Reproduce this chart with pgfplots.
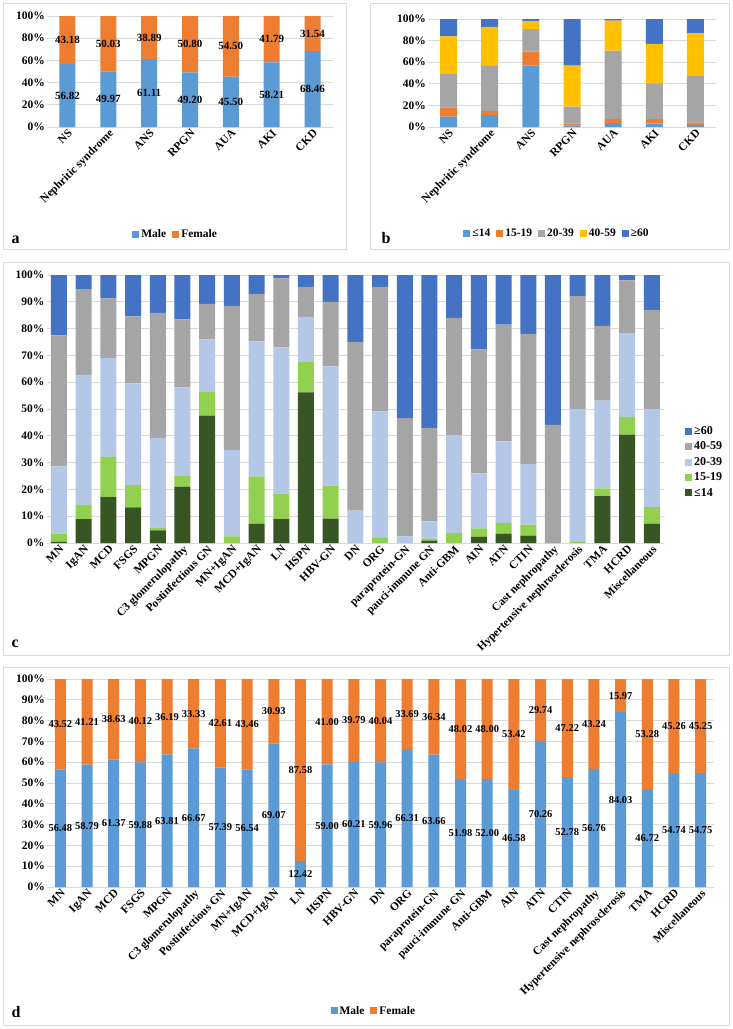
\documentclass[border=0pt]{standalone}
\usepackage{pgfplots}
\pgfplotsset{compat=1.18}
\usepackage{fontspec}
\setmainfont{Liberation Serif}
\definecolor{cMale}{HTML}{5B9BD5}
\definecolor{cFemale}{HTML}{ED7D31}
\definecolor{cGray}{HTML}{A5A5A5}
\definecolor{cGold}{HTML}{FFC000}
\definecolor{cDBlue}{HTML}{4472C4}
\definecolor{cDGreen}{HTML}{375623}
\definecolor{cLGreen}{HTML}{92D050}
\definecolor{cLBlue}{HTML}{B4C7E7}
\definecolor{cGrid}{HTML}{D9D9D9}
\definecolor{cFrame}{HTML}{D9D9D9}
\newcommand{\fs}[1]{\fontsize{#1}{#1}\selectfont}
\pgfplotsset{
  panel/.style={
    scale only axis, anchor=north west,
    ybar stacked, ymin=0, ymax=100,
    axis line style={draw=none}, tick style={draw=none},
    ymajorgrids, grid style={cGrid, line width=0.7pt},
    xtick=data,
    /pgf/number format/assume math mode=true,
    ticklabel style={font=\bfseries\fs{11.5}},
    xticklabel style={rotate=45, anchor=north east, inner sep=1pt},
    yticklabel style={inner sep=2pt},
    legend image code/.code={\fill[##1] (0pt,-3.5pt) rectangle (7pt,3.5pt);},
    legend style={draw=none, fill=none, font=\bfseries\fs{11.5}, legend columns=-1,
      /tikz/every even column/.append style={column sep=4pt}},
  },
  labelaxis/.style={scale only axis, anchor=north west, hide axis, ymin=0, ymax=100, clip=false},
  labelplot/.style={draw=none, mark=none, nodes near coords, point meta=explicit symbolic,
    every node near coord/.append style={anchor=center, text=black, inner sep=0pt, font=\bfseries\fs{#1}}},
}
\begin{document}
\begin{tikzpicture}
\useasboundingbox (0pt,0pt) rectangle (732pt,-1029pt);
\fill[white] (0pt,0pt) rectangle (732pt,-1029pt);
\draw[cFrame, line width=0.8pt] (3pt,-3pt) rectangle (346pt,-249pt);
\draw[cFrame, line width=0.8pt] (370pt,-3pt) rectangle (729pt,-249pt);
\draw[cFrame, line width=0.8pt] (3pt,-262pt) rectangle (729pt,-655pt);
\draw[cFrame, line width=0.8pt] (3pt,-667pt) rectangle (729pt,-1025pt);

% ---------- panel a ----------
\begin{axis}[panel, at={(47pt,-16pt)}, width=286pt, height=111pt,
  bar width=16pt, xmin=-0.5, xmax=6.5,
  ytick={0,20,40,60,80,100}, yticklabels={0\%,20\%,40\%,60\%,80\%,100\%},
  xticklabels={NS,Nephritic syndrome,ANS,RPGN,AUA,AKI,CKD},
  legend style={at={(0.45,-0.964)}, anchor=center}]
\addplot[fill=cMale, draw=none] coordinates {(0,56.82) (1,49.97) (2,61.11) (3,49.20) (4,45.50) (5,58.21) (6,68.46)};
\addplot[fill=cFemale, draw=none] coordinates {(0,43.18) (1,50.03) (2,38.89) (3,50.80) (4,54.50) (5,41.79) (6,31.54)};
\legend{Male,Female}
\end{axis}
\begin{axis}[labelaxis, at={(47pt,-16pt)}, width=286pt, height=111pt, xmin=-0.5, xmax=6.5]
\addplot[labelplot=11] coordinates {(0,28.41) [56.82] (1,24.985) [49.97] (2,30.555) [61.11] (3,24.60) [49.20] (4,22.75) [45.50] (5,29.105) [58.21] (6,34.23) [68.46]};
\addplot[labelplot=11] coordinates {(0,78.41) [43.18] (1,74.985) [50.03] (2,80.555) [38.89] (3,74.60) [50.80] (4,72.75) [54.50] (5,79.105) [41.79] (6,84.23) [31.54]};
\end{axis}

% ---------- panel b ----------
\begin{axis}[panel, at={(428pt,-19pt)}, width=288pt, height=108pt,
  bar width=17pt, xmin=-0.5, xmax=6.5,
  ytick={0,20,40,60,80,100}, yticklabels={0\%,20\%,40\%,60\%,80\%,100\%},
  xticklabels={NS,Nephritic syndrome,ANS,RPGN,AUA,AKI,CKD},
  legend style={at={(0.448,-0.99)}, anchor=center}]
\addplot[fill=cMale, draw=none] coordinates {(0,9.6) (1,11.1) (2,56.8) (3,1.5) (4,3.7) (5,3.1) (6,1.9)};
\addplot[fill=cFemale, draw=none] coordinates {(0,8.6) (1,3.7) (2,13.0) (3,1.6) (4,3.7) (5,4.3) (6,2.1)};
\addplot[fill=cGray, draw=none] coordinates {(0,31.5) (1,41.7) (2,20.9) (3,15.7) (4,63.3) (5,33.0) (6,43.2)};
\addplot[fill=cGold, draw=none] coordinates {(0,34.3) (1,36.1) (2,7.1) (3,38.0) (4,27.8) (5,36.5) (6,39.5)};
\addplot[fill=cDBlue, draw=none] coordinates {(0,16.0) (1,7.4) (2,2.2) (3,43.2) (4,1.5) (5,23.1) (6,13.3)};
\legend{≤14,15-19,20-39,40-59,≥60}
\end{axis}

% ---------- panel c ----------
\begin{axis}[panel, at={(46.6pt,-275pt)}, width=617.5pt, height=268pt,
  bar width=16pt, xmin=-0.5, xmax=24.5,
  ytick={0,10,...,100}, yticklabels={0\%,10\%,20\%,30\%,40\%,50\%,60\%,70\%,80\%,90\%,100\%},
  xticklabels={MN,IgAN,MCD,FSGS,MPGN,C3 glomerulopathy,Postinfectious GN,MN+IgAN,MCD+IgAN,LN,HSPN,HBV-GN,DN,ORG,paraprotein-GN,pauci-immune GN,Anti-GBM,AIN,ATN,CTIN,Cast nephropathy,Hypertensive nephrosclerosis,TMA,HCRD,Miscellaneous},
  legend columns=1, reverse legend, legend cell align=left,
  legend style={at={(1.029,0.451)}, anchor=north west, font=\bfseries\fs{12}, row sep=2pt}]
\addplot[fill=cDGreen, draw=none] coordinates {(0,0.5) (1,8.9) (2,17.1) (3,13.25) (4,4.75) (5,21.0) (6,47.5) (7,0) (8,7.1) (9,8.9) (10,56.25) (11,9.1) (12,0) (13,0) (14,0) (15,0.9) (16,0) (17,2.25) (18,3.5) (19,2.75) (20,0) (21,0) (22,17.5) (23,40.4) (24,7.1)};
\addplot[fill=cLGreen, draw=none] coordinates {(0,3.0) (1,5.35) (2,15.0) (3,8.35) (4,1.0) (5,4.0) (6,9.1) (7,2.5) (8,17.8) (9,9.5) (10,11.25) (11,12.3) (12,0) (13,1.9) (14,0) (15,0.7) (16,3.75) (17,3.25) (18,4.0) (19,4.15) (20,0) (21,0.6) (22,2.9) (23,6.7) (24,6.3)};
\addplot[fill=cLBlue, draw=none] coordinates {(0,25.1) (1,48.5) (2,36.9) (3,38.0) (4,33.35) (5,33.1) (6,19.4) (7,32.25) (8,50.35) (9,54.6) (10,16.9) (11,44.5) (12,12.1) (13,47.2) (14,2.5) (15,6.5) (16,36.5) (17,20.5) (18,30.4) (19,22.5) (20,0) (21,49.4) (22,32.7) (23,31.0) (24,36.6)};
\addplot[fill=cGray, draw=none] coordinates {(0,48.9) (1,32.0) (2,22.25) (3,25.0) (4,46.8) (5,25.3) (6,13.25) (7,53.75) (8,17.65) (9,25.75) (10,11.2) (11,24.1) (12,62.9) (13,46.5) (14,44.1) (15,34.9) (16,43.75) (17,46.25) (18,43.6) (19,48.5) (20,44.1) (21,42.1) (22,27.9) (23,19.9) (24,36.9)};
\addplot[fill=cDBlue, draw=none] coordinates {(0,22.5) (1,5.25) (2,8.75) (3,15.4) (4,14.1) (5,16.6) (6,10.75) (7,11.5) (8,7.1) (9,1.25) (10,4.4) (11,10.0) (12,25.0) (13,4.4) (14,53.4) (15,57.0) (16,16.0) (17,27.75) (18,18.5) (19,22.1) (20,55.9) (21,7.9) (22,19.0) (23,2.0) (24,13.1)};
\legend{≤14,15-19,20-39,40-59,≥60}
\end{axis}

% ---------- panel d ----------
\begin{axis}[panel, at={(47pt,-679pt)}, width=667pt, height=208pt,
  bar width=11pt, xmin=-0.5, xmax=24.5,
  ytick={0,10,...,100}, yticklabels={0\%,10\%,20\%,30\%,40\%,50\%,60\%,70\%,80\%,90\%,100\%},
  xticklabels={MN,IgAN,MCD,FSGS,MPGN,C3 glomerulopathy,Postinfectious GN,MN+IgAN,MCD+IgAN,LN,HSPN,HBV-GN,DN,ORG,paraprotein-GN,pauci-immune GN,Anti-GBM,AIN,ATN,CTIN,Cast nephropathy,Hypertensive nephrosclerosis,TMA,HCRD,Miscellaneous},
  legend style={at={(0.49,-0.596)}, anchor=center}]
\addplot[fill=cMale, draw=none] coordinates {(0,56.48) (1,58.79) (2,61.37) (3,59.88) (4,63.81) (5,66.67) (6,57.39) (7,56.54) (8,69.07) (9,12.42) (10,59.00) (11,60.21) (12,59.96) (13,66.31) (14,63.66) (15,51.98) (16,52.00) (17,46.58) (18,70.26) (19,52.78) (20,56.76) (21,84.03) (22,46.72) (23,54.74) (24,54.75)};
\addplot[fill=cFemale, draw=none] coordinates {(0,43.52) (1,41.21) (2,38.63) (3,40.12) (4,36.19) (5,33.33) (6,42.61) (7,43.46) (8,30.93) (9,87.58) (10,41.00) (11,39.79) (12,40.04) (13,33.69) (14,36.34) (15,48.02) (16,48.00) (17,53.42) (18,29.74) (19,47.22) (20,43.24) (21,15.97) (22,53.28) (23,45.26) (24,45.25)};
\legend{Male,Female}
\end{axis}
\begin{axis}[labelaxis, at={(47pt,-679pt)}, width=667pt, height=208pt, xmin=-0.5, xmax=24.5]
\addplot[labelplot=10.5] coordinates {(0,28.24) [56.48] (1,29.395) [58.79] (2,30.685) [61.37] (3,29.94) [59.88] (4,31.905) [63.81] (5,33.335) [66.67] (6,28.695) [57.39] (7,28.27) [56.54] (8,34.535) [69.07] (9,6.21) [12.42] (10,29.5) [59.00] (11,30.105) [60.21] (12,29.98) [59.96] (13,33.155) [66.31] (14,31.83) [63.66] (15,25.99) [51.98] (16,26.0) [52.00] (17,23.29) [46.58] (18,35.13) [70.26] (19,26.39) [52.78] (20,28.38) [56.76] (21,42.015) [84.03] (22,23.36) [46.72] (23,27.37) [54.74] (24,27.375) [54.75]};
\addplot[labelplot=10.5] coordinates {(0,78.24) [43.52] (1,79.395) [41.21] (2,80.685) [38.63] (3,79.94) [40.12] (4,81.905) [36.19] (5,83.335) [33.33] (6,78.695) [42.61] (7,78.27) [43.46] (8,84.535) [30.93] (9,56.21) [87.58] (10,79.5) [41.00] (11,80.105) [39.79] (12,79.98) [40.04] (13,83.155) [33.69] (14,81.83) [36.34] (15,75.99) [48.02] (16,76.0) [48.00] (17,73.29) [53.42] (18,85.13) [29.74] (19,76.39) [47.22] (20,78.38) [43.24] (21,92.015) [15.97] (22,73.36) [53.28] (23,77.37) [45.26] (24,77.375) [45.25]};
\end{axis}

\node[anchor=base west, font=\bfseries\fs{16}] at (8pt,-243pt) {a};
\node[anchor=base west, font=\bfseries\fs{16}] at (378pt,-243pt) {b};
\node[anchor=base west, font=\bfseries\fs{16}] at (8pt,-647pt) {c};
\node[anchor=base west, font=\bfseries\fs{16}] at (8pt,-1017pt) {d};
\end{tikzpicture}
\end{document}
